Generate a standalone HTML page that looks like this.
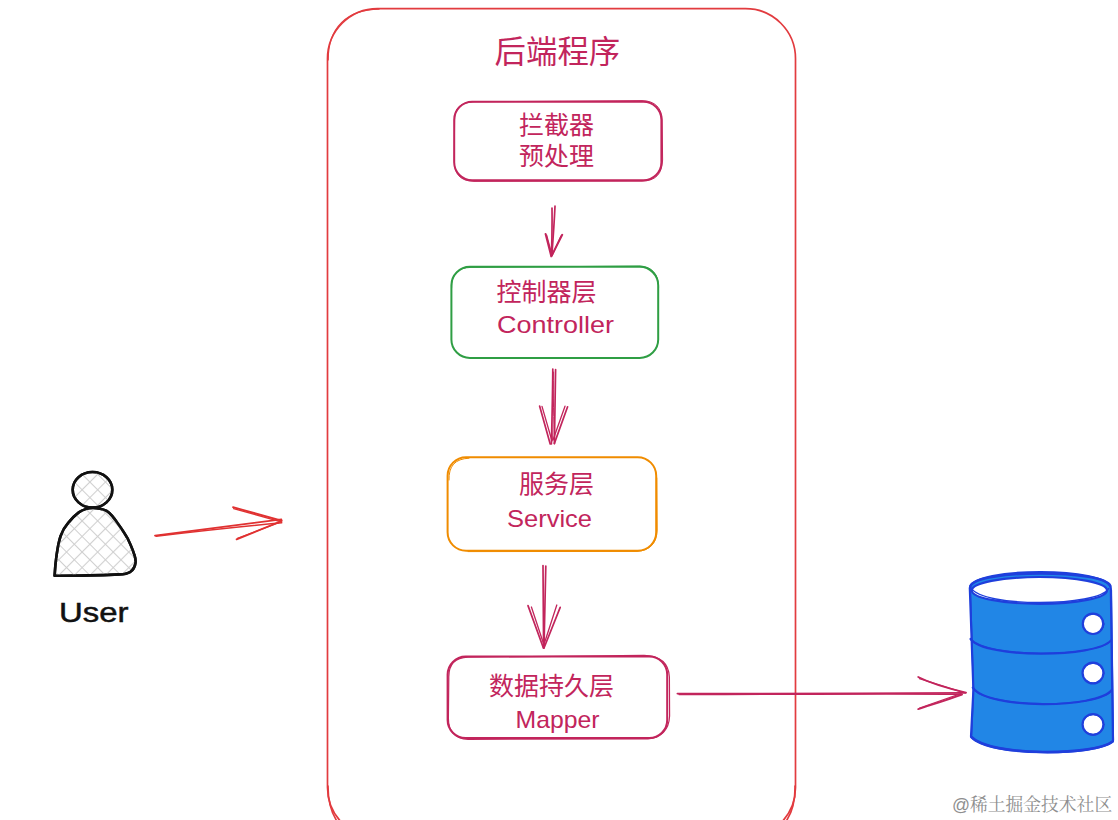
<!DOCTYPE html>
<html lang="zh-CN">
<head>
<meta charset="utf-8">
<title>后端程序</title>
<style>
  html, body { margin: 0; padding: 0; background: #ffffff; }
  body { width: 1118px; height: 820px; overflow: hidden; position: relative; }
  svg { position: absolute; left: 0; top: 0; display: block; }
  .cjk { font-family: "Liberation Sans", "Noto Sans CJK SC", sans-serif; fill: #c2255c; }
  .lat { font-family: "Liberation Sans", sans-serif; fill: #c2255c; }
  .blk { font-family: "Liberation Sans", sans-serif; fill: #111111; }
  .wm  { font-family: "Liberation Sans", "Noto Serif CJK SC", serif; fill: #8f8f8f; stroke: #ffffff; stroke-width: 2px; paint-order: stroke fill; }
  .s { fill: none; stroke-linecap: round; stroke-linejoin: round; }
</style>
</head>
<body>
<svg width="1118" height="820" viewBox="0 0 1118 820">
  <defs>
    <pattern id="hatch" width="11" height="11" patternUnits="userSpaceOnUse" patternTransform="rotate(45 92 540)">
      <path d="M0 5.5H11M5.5 0V11" stroke="#cfcfcf" stroke-width="1.1" fill="none"/>
    </pattern>
  </defs>

  <!-- outer container -->
  <g class="s" stroke="#e23b3f" stroke-width="1.7">
    <rect x="327.5" y="8.6" width="468" height="829" rx="50" ry="50"/>
    <path d="M328.2 60 C328 28 347 9.4 379 9.2" stroke-width="1.2"/>
    <path d="M795 786 C795.4 806 789 822 776 832" stroke-width="1.6"/>
    <path d="M328 786 C328 806 334 822 347 832" stroke-width="1.6"/>
  </g>

  <!-- title -->
  <text class="cjk" x="557.4" y="62.8" font-size="31.4" text-anchor="middle">后端程序</text>

  <!-- box 1 -->
  <g class="s" stroke="#c2255c" stroke-width="2">
    <rect x="454.2" y="101.8" width="207.2" height="78.4" rx="18" ry="18"/>
    <path d="M454.6 122 C454 108 460 102.4 474 101.8 L642 100.6 C655 100.8 661.8 108 662.2 120 L662.6 160 C662 174 656 180.6 642 181.2 L474 181.4 C460 181 454 174 454.2 160 Z" stroke-width="1"/>
  </g>
  <text class="cjk" x="556.6" y="134.2" font-size="25" text-anchor="middle">拦截器</text>
  <text class="cjk" x="556.6" y="165.4" font-size="25" text-anchor="middle">预处理</text>

  <!-- arrow 1 -->
  <g class="s" stroke="#c2255c" stroke-width="1.7">
    <path d="M552 208 C552.2 224 552 240 551.4 256"/>
    <path d="M555 206.2 C554.2 224 553 240 551.8 255.6"/>
    <path d="M545.6 234 L551.3 256.4 L562.2 234.8" stroke-width="2"/>
    <path d="M546.6 235 L552 255" stroke-width="1.2"/>
    <path d="M561 236 L552.4 255" stroke-width="1.2"/>
  </g>

  <!-- box 2 -->
  <g class="s" stroke="#2f9e44" stroke-width="2">
    <rect x="451.4" y="266.8" width="206.8" height="91.2" rx="18.5" ry="18.5"/>
    <path d="M451.6 288 C451.4 274 458 267.6 471 267.4 L640 266 C652 266.6 658.4 274 658.6 287" stroke-width="1"/>
  </g>
  <text class="cjk" x="546.5" y="300.5" font-size="25" text-anchor="middle">控制器层</text>
  <text class="lat" x="555.5" y="333" font-size="24" text-anchor="middle" textLength="117" lengthAdjust="spacingAndGlyphs">Controller</text>

  <!-- arrow 2 -->
  <g class="s" stroke="#c2255c" stroke-width="1.7">
    <path d="M552.8 369 C552.6 395 552 420 551.4 444"/>
    <path d="M555.6 369.6 C555.4 396 555 421 554.4 443.6"/>
    <path d="M553.6 372 C553.8 396 553.4 421 552.6 440" stroke-width="1"/>
    <path d="M539.6 406 L550.2 444"/>
    <path d="M542 406.4 L552 441" stroke-width="1.3"/>
    <path d="M567.6 406.8 L554.4 443.4"/>
    <path d="M565 406.2 L553 440" stroke-width="1.3"/>
  </g>

  <!-- box 3 -->
  <g class="s" stroke="#f08c00" stroke-width="2">
    <rect x="447.6" y="457.2" width="208.6" height="93.6" rx="18.5" ry="18.5"/>
    <path d="M656.8 478 L657.2 530 C656.8 543 650 550.6 637 551.4 L468 551.6" stroke-width="1"/>
    <path d="M449 480 C448.6 466 455 458.8 469 458.2" stroke-width="1"/>
  </g>
  <text class="cjk" x="556.6" y="493.4" font-size="25" text-anchor="middle">服务层</text>
  <text class="lat" x="549.5" y="527" font-size="24" text-anchor="middle" textLength="85" lengthAdjust="spacingAndGlyphs">Service</text>

  <!-- arrow 3 -->
  <g class="s" stroke="#c2255c" stroke-width="1.7">
    <path d="M543 565.6 C543.4 594 543.6 622 543.6 648"/>
    <path d="M545.8 566 C545.4 594 544.8 622 544 647.6"/>
    <path d="M528 605.6 L543.4 648"/>
    <path d="M531.4 607 L544 645" stroke-width="1.3"/>
    <path d="M560.2 607.4 L544 648"/>
    <path d="M556.8 605 L543.8 645" stroke-width="1.3"/>
  </g>

  <!-- box 4 -->
  <g class="s" stroke="#c2255c" stroke-width="2">
    <rect x="447.6" y="656.6" width="219.6" height="81.4" rx="18" ry="18"/>
    <path d="M448.8 678 C448.4 664 455 657.6 468 657.2 L644 655.4 C660 655.8 668.6 663 669.4 677 L669.6 716 C669 730 661 738 648 738.8 L468 739.4 C455 739 448.2 731 448.4 718 Z" stroke-width="1.2"/>
  </g>
  <text class="cjk" x="551.5" y="694.5" font-size="25" text-anchor="middle">数据持久层</text>
  <text class="lat" x="557.5" y="727.8" font-size="24" text-anchor="middle" textLength="84" lengthAdjust="spacingAndGlyphs">Mapper</text>

  <!-- arrow to database -->
  <g class="s" stroke="#c2255c" stroke-width="1.8">
    <path d="M677.4 693.6 C770 693.8 870 693.6 965.6 692.8"/>
    <path d="M679 694.6 C770 694.4 870 693.4 962 694.2" stroke-width="1.4"/>
    <path d="M918.2 677 C932 684 950 689 966 692.6"/>
    <path d="M919.4 678.6 L960 691.4" stroke-width="1.2"/>
    <path d="M918.2 709.2 C934 704 950 699 962 694.6"/>
    <path d="M919.6 708 L961 693.6" stroke-width="1.2"/>
  </g>

  <!-- database -->
  <g stroke="#1f3fdc" stroke-width="2.2" stroke-linejoin="round" stroke-linecap="round">
    <path d="M969.8 588 C972 567 1108 566.6 1110.8 588 L1113 741 C1098 756 988 757.4 971 736.4 L973.4 690 Z" fill="#2186e6"/>
    <ellipse cx="1039.4" cy="590.4" rx="67.6" ry="13.4" fill="#ffffff"/>
    <path d="M970.4 586 C976 569.6 1104 569 1110.4 586" fill="none" stroke-width="2.4"/>
    <path d="M971.4 588 C982 607.6 1098 607 1108.6 588.6" fill="none" stroke-width="1.4"/>
    <path d="M970.6 639 C985 658.6 1096 658 1111 640.4" fill="none"/>
    <path d="M972 640.6 C990 657 1092 657.6 1110.4 641.6" fill="none" stroke-width="1.2"/>
    <path d="M972.8 687.6 C988 709.6 1097 709 1111.8 690" fill="none"/>
    <path d="M974 690 C992 708 1094 708 1111 691.6" fill="none" stroke-width="1.2"/>
    <path d="M971.4 737 C990 757 1096 755.6 1112.6 741.6" fill="none" stroke-width="2.6"/>
    <path d="M970.4 590 L973.4 690 L971.6 735" fill="none" stroke-width="1.4"/>
    <path d="M1111.4 590 L1113.4 740" fill="none" stroke-width="1.4"/>
    <circle cx="1093" cy="623.8" r="10.2" fill="#ffffff"/>
    <circle cx="1093" cy="673" r="10.4" fill="#ffffff"/>
    <circle cx="1093" cy="724.4" r="10.4" fill="#ffffff"/>
    <ellipse cx="1093.2" cy="624" rx="10.8" ry="9.8" fill="none" stroke-width="1"/>
    <ellipse cx="1093.2" cy="673.2" rx="10.8" ry="9.8" fill="none" stroke-width="1"/>
    <ellipse cx="1093.2" cy="724.6" rx="10.8" ry="9.8" fill="none" stroke-width="1"/>
  </g>

  <!-- user icon -->
  <g stroke="#111111" stroke-width="2.6" stroke-linejoin="round" stroke-linecap="round">
    <ellipse cx="92.5" cy="489.8" rx="19.8" ry="17.8" fill="#ffffff"/>
    <ellipse cx="92.5" cy="489.8" rx="19.8" ry="17.8" fill="url(#hatch)"/>
    <path d="M54.6 575.8 C55 568 55.6 562 56.6 555 C57.6 548 58.6 542 60.6 536 C62.4 531 64.6 527 67.8 523.4 C70.8 519.6 74.4 515.6 78.8 512.4 C83 509.6 87.6 508 92.5 508 C97.6 508 102.4 508.8 106.6 510.8 C111 513.6 114.6 518.6 117.8 523.4 C121.6 528.6 125 533.6 128 539.2 C130.6 544.6 132.8 549.6 134.4 555 C135.4 558 135.8 560.6 135.4 563 C135 566.6 133.4 569.6 130.4 571.8 C127.4 573.6 123.6 574.2 119.2 574.4 C98 575.6 76 575.6 54.6 575.8 Z" fill="#ffffff"/>
    <path d="M54.6 575.8 C55 568 55.6 562 56.6 555 C57.6 548 58.6 542 60.6 536 C62.4 531 64.6 527 67.8 523.4 C70.8 519.6 74.4 515.6 78.8 512.4 C83 509.6 87.6 508 92.5 508 C97.6 508 102.4 508.8 106.6 510.8 C111 513.6 114.6 518.6 117.8 523.4 C121.6 528.6 125 533.6 128 539.2 C130.6 544.6 132.8 549.6 134.4 555 C135.4 558 135.8 560.6 135.4 563 C135 566.6 133.4 569.6 130.4 571.8 C127.4 573.6 123.6 574.2 119.2 574.4 C98 575.6 76 575.6 54.6 575.8 Z" fill="url(#hatch)"/>
  </g>
  <text class="blk" x="93.8" y="621.6" font-size="28" text-anchor="middle" textLength="69.5" lengthAdjust="spacingAndGlyphs" stroke="#111111" stroke-width="0.5">User</text>

  <!-- red arrow -->
  <g class="s" stroke="#e03131" stroke-width="1.8">
    <path d="M155 535.6 C198 530 240 525 281.4 519.4"/>
    <path d="M156 536.2 C200 531 242 526.4 281.8 522.8" stroke-width="1.4"/>
    <path d="M233 507.2 L281.6 520.6"/>
    <path d="M233.6 508.6 L281 521.8" stroke-width="1.4"/>
    <path d="M236.6 539.4 L281.6 521"/>
    <path d="M237.4 538.4 L279 522.6" stroke-width="1.2"/>
  </g>

  <!-- watermark -->
  <text class="wm" x="1112.2" y="810.8" font-size="17.8" text-anchor="end">@稀土掘金技术社区</text>
</svg>
</body>
</html>
